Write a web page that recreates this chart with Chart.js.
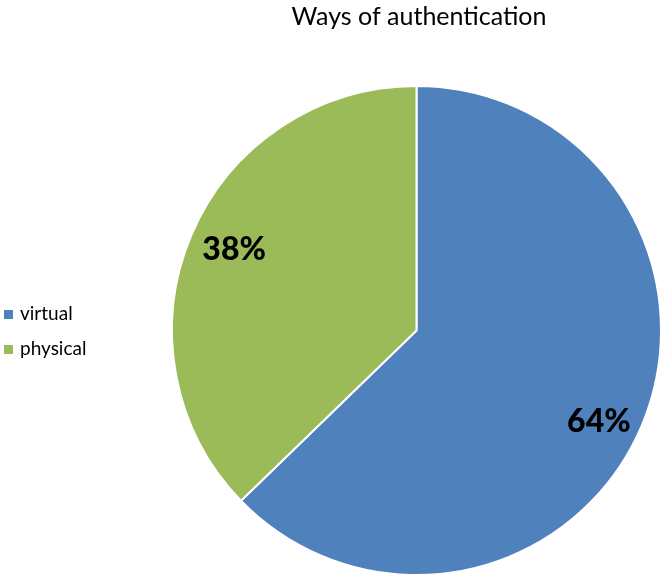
<!DOCTYPE html>
<html>
<head>
<meta charset="utf-8">
<script src="https://cdn.jsdelivr.net/npm/chart.js@4.4.0/dist/chart.umd.min.js"></script>
<style>
  html, body { margin: 0; padding: 0; background: #fff; }
  #wrap { width: 664px; height: 578px; position: relative; }
</style>
</head>
<body>
<div id="wrap"><canvas id="grafico"></canvas></div>
<script>
// dados do gráfico
const categorias = ['virtual', 'physical'];
const valores = [64, 38];
const cores = ['#4F81BD', '#9BBB59'];
const titulo = 'Ways of authentication';

const fonte = 'Lato, "Open Sans", "DejaVu Sans", sans-serif';

// título, legenda e rótulos desenhados à mão
const extras = {
    id: 'extras',
    afterDraw(chart) {
        const ctx = chart.ctx;
        ctx.save();
        // título
        ctx.fillStyle = '#000';
        ctx.font = '25px ' + fonte;
        ctx.textAlign = 'center';
        ctx.textBaseline = 'middle';
        ctx.fillText(titulo, 419, 17);

        // legenda à esquerda
        ctx.font = '19px ' + fonte;
        ctx.textAlign = 'left';
        categorias.forEach((nome, i) => {
            const y = 314 + i * 35;
            ctx.fillStyle = cores[i];
            ctx.fillRect(4, y - 4, 9, 9);
            ctx.fillStyle = '#000';
            ctx.fillText(nome, 20, y);
        });

        // rótulos de porcentagem (+5px para centrar os dígitos)
        const meta = chart.getDatasetMeta(0);
        ctx.font = '900 32px ' + fonte;
        ctx.textAlign = 'center';
        meta.data.forEach((arco, i) => {
            const meio = (arco.startAngle + arco.endAngle) / 2;
            const x = arco.x + Math.cos(meio) * arco.outerRadius * 0.81;
            const y = arco.y + Math.sin(meio) * arco.outerRadius * 0.9 + 5;
            ctx.fillStyle = '#000';
            ctx.fillText(valores[i] + '%', x, y);
        });
        ctx.restore();
    }
};

new Chart(document.getElementById('grafico'), {
    type: 'pie',
    data: {
        labels: categorias,
        datasets: [{
            data: valores,
            backgroundColor: cores,
            borderColor: '#fff',
            borderWidth: 2
        }]
    },
    options: {
        responsive: true,
        maintainAspectRatio: false,
        animation: false,
        layout: { padding: { top: 85, bottom: 2, left: 171, right: 2 } },
        plugins: {
            legend: { display: false },
            title: { display: false },
            tooltip: { enabled: false }
        }
    },
    plugins: [extras]
});
</script>
</body>
</html>
